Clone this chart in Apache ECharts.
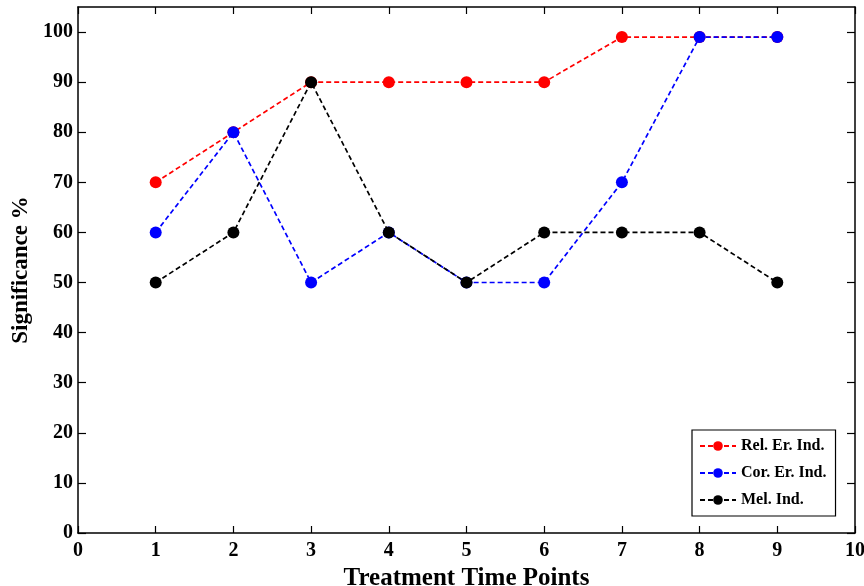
<!DOCTYPE html>
<html>
<head>
<meta charset="utf-8">
<script src="https://cdn.jsdelivr.net/npm/echarts@6/dist/echarts.min.js"></script>
<style>
  html, body { margin: 0; padding: 0; background: #fff; }
  #chart { width: 864px; height: 586px; }
</style>
</head>
<body>
<div id="chart"></div>
<script>
// Time points on the x axis
const timePoints = [1, 2, 3, 4, 5, 6, 7, 8, 9];

// Significance (%) per index
const relErInd = [70, 80, 90, 90, 90, 90, 99, 99, 99];
const corErInd = [60, 80, 50, 60, 50, 50, 70, 99, 99];
const melInd   = [50, 60, 90, 60, 50, 60, 60, 60, 50];

const seriesNames = ['Rel. Er. Ind.', 'Cor. Er. Ind.', 'Mel. Ind.'];
const seriesColors = ['#ff0000', '#0000ff', '#000000'];
const seriesData = [relErInd, corErInd, melInd];

// Tick values shown on the axes
const yTicks = [0, 10, 20, 30, 40, 50, 60, 70, 80, 90, 100];
const xTicks = [0, 1, 2, 3, 4, 5, 6, 7, 8, 9, 10];

const FONT = '"Liberation Serif", "Times New Roman", serif';

const chart = echarts.init(document.getElementById('chart'), null, { renderer: 'canvas' });

const axisLine = { show: true, onZero: false, lineStyle: { color: '#000', width: 1.5 } };
const tickStyle = { lineStyle: { color: '#000', width: 1.2 } };

const option = {
  animation: false,
  backgroundColor: '#fff',
  grid: { left: 78, right: 9, top: 7, bottom: 53, containLabel: false, outerBoundsMode: 'none' },
  legend: {
    orient: 'vertical',
    left: 692,
    top: 430,
    padding: [8, 9, 8, 7],
    itemGap: 11,
    itemWidth: 36,
    itemHeight: 12,
    borderColor: '#000',
    borderWidth: 1.2,
    backgroundColor: '#fff',
    data: seriesNames,
    textStyle: { fontFamily: FONT, fontWeight: 'bold', fontSize: 16, color: '#000' }
  },
  xAxis: [
    {
      type: 'value', position: 'bottom', min: 0, max: 10, interval: 1,
      name: 'Treatment Time Points', nameLocation: 'middle', nameGap: 22,
      nameTextStyle: { fontFamily: FONT, fontWeight: 'bold', fontSize: 25, color: '#000' },
      axisLine: axisLine,
      axisTick: Object.assign({ inside: true, length: 7, customValues: xTicks }, tickStyle),
      axisLabel: { customValues: xTicks, margin: 8, fontFamily: FONT, fontWeight: 'bold', fontSize: 20, color: '#000' },
      splitLine: { show: false }
    },
    {
      type: 'value', position: 'top', min: 0, max: 10, interval: 1,
      axisLine: axisLine,
      axisTick: Object.assign({ inside: true, length: 7, customValues: xTicks }, tickStyle),
      axisLabel: { show: false },
      splitLine: { show: false }
    }
  ],
  yAxis: [
    {
      type: 'value', position: 'left', min: 0, max: 105, interval: 10,
      name: 'Significance %', nameLocation: 'middle', nameGap: 41, nameRotate: 90,
      nameTextStyle: { fontFamily: FONT, fontWeight: 'bold', fontSize: 23, color: '#000' },
      axisLine: axisLine,
      axisTick: Object.assign({ inside: true, length: 8, customValues: yTicks }, tickStyle),
      axisLabel: { customValues: yTicks, margin: 5, fontFamily: FONT, fontWeight: 'bold', fontSize: 20, color: '#000' },
      splitLine: { show: false }
    },
    {
      type: 'value', position: 'right', min: 0, max: 105, interval: 10,
      axisLine: axisLine,
      axisTick: Object.assign({ inside: true, length: 8, customValues: yTicks }, tickStyle),
      axisLabel: { show: false },
      splitLine: { show: false }
    }
  ],
  series: seriesNames.map((name, i) => ({
    name: name,
    type: 'line',
    xAxisIndex: 0,
    yAxisIndex: 0,
    data: timePoints.map((t, k) => [t, seriesData[i][k]]),
    symbol: 'circle',
    symbolSize: 12,
    z: 2 + i,
    itemStyle: { color: seriesColors[i] },
    lineStyle: { color: seriesColors[i], width: 1.7, type: [5, 3] }
  }))
};

chart.setOption(option);
</script>
</body>
</html>
